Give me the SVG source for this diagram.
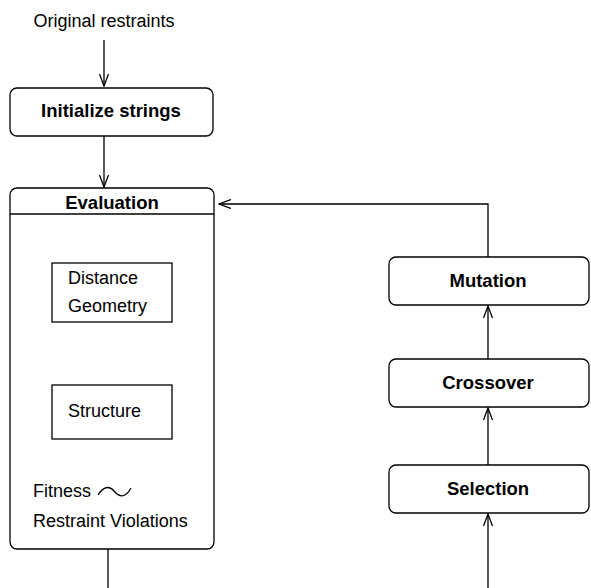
<svg xmlns="http://www.w3.org/2000/svg" width="591" height="588" viewBox="0 0 591 588">
<defs>
<style>
.box{fill:#fff;stroke:#000;stroke-width:1.3}
.ln{fill:none;stroke:#000;stroke-width:1.3}
.t{font-family:"Liberation Sans",Arial,sans-serif;font-size:18px;fill:#000}
.b{font-weight:bold;text-anchor:middle;font-size:18.5px}
</style>
<marker id="ah" viewBox="0 0 13 10" refX="12" refY="5" markerWidth="13" markerHeight="10" markerUnits="userSpaceOnUse" orient="auto">
<path d="M0,0.5 L12,5 L0,9.5" fill="none" stroke="#000" stroke-width="1.3"/>
</marker>
</defs>
<rect width="591" height="588" fill="#fff"/>
<g id="connectors">
<line class="ln" x1="104" y1="40" x2="104" y2="86" marker-end="url(#ah)"/>
<line class="ln" x1="104" y1="136" x2="104" y2="187" marker-end="url(#ah)"/>
<line class="ln" x1="104" y1="322" x2="104" y2="383" marker-end="url(#ah)"/>
<line class="ln" x1="108" y1="549" x2="108" y2="588"/>
<polyline class="ln" points="488,257 488,204 219,204" marker-end="url(#ah)"/>
<line class="ln" x1="488" y1="359" x2="488" y2="306" marker-end="url(#ah)"/>
<line class="ln" x1="488" y1="465" x2="488" y2="408" marker-end="url(#ah)"/>
<line class="ln" x1="488" y1="588" x2="488" y2="514" marker-end="url(#ah)"/>
</g>
<g id="original-restraints">
<text class="t" x="104" y="27" text-anchor="middle" font-size="17.5">Original restraints</text>
</g>
<g id="initialize">
<rect class="box" x="10" y="88" width="203" height="48" rx="7"/>
<text class="t b" x="111" y="117">Initialize strings</text>
</g>
<g id="evaluation">
<rect class="box" x="10" y="188" width="204" height="361" rx="7"/>
<line class="ln" x1="10" y1="214" x2="214" y2="214"/>
<text class="t b" x="112" y="209">Evaluation</text>
<text class="t" x="33" y="497">Fitness</text>
<path class="ln" d="M98,495 C103,487 109,485 114,491 C119,497 125,499 131,488" stroke-width="1.1"/>
<text class="t" x="33" y="527">Restraint Violations</text>
</g>
<g id="distance-geometry">
<rect class="box" x="52" y="263" width="120" height="59"/>
<text class="t" x="68" y="284">Distance</text>
<text class="t" x="68" y="312">Geometry</text>
</g>
<g id="structure">
<rect class="box" x="52" y="385" width="120" height="54"/>
<text class="t" x="68" y="417">Structure</text>
</g>
<g id="mutation">
<rect class="box" x="389" y="257" width="200" height="48" rx="7"/>
<text class="t b" x="488" y="287">Mutation</text>
</g>
<g id="crossover">
<rect class="box" x="389" y="359" width="200" height="48" rx="7"/>
<text class="t b" x="488" y="389">Crossover</text>
</g>
<g id="selection">
<rect class="box" x="389" y="465" width="200" height="48" rx="7"/>
<text class="t b" x="488" y="495">Selection</text>
</g>
</svg>
